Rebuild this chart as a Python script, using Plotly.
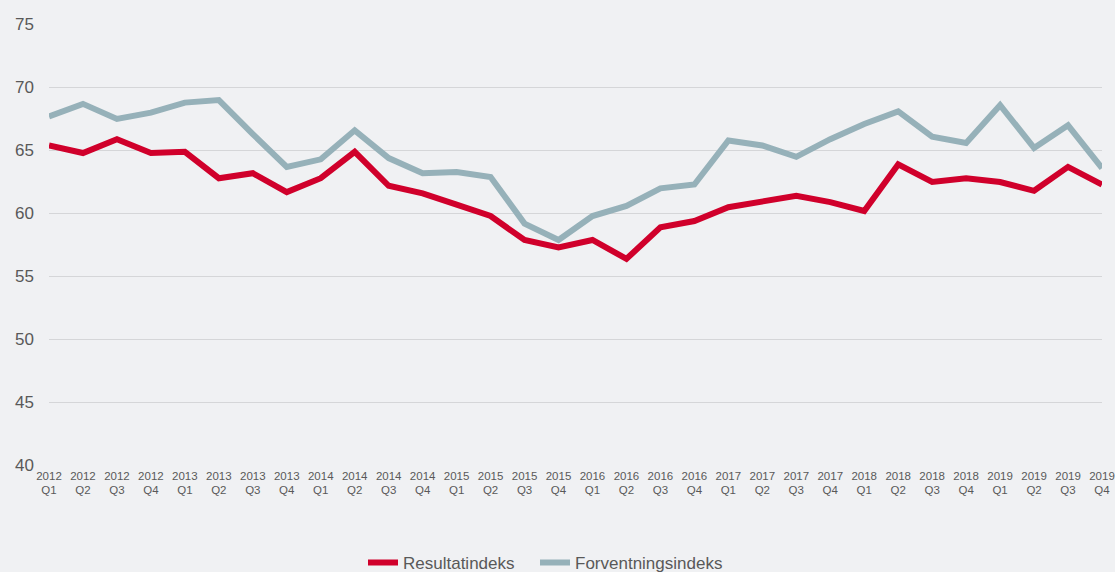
import plotly.graph_objects as go

quarters = [f"{y}<br>Q{q}" for y in range(2012, 2020) for q in range(1, 5)]

resultatindeks = [65.4, 64.8, 65.9, 64.8, 64.9, 62.8, 63.2, 61.7,
                  62.8, 64.9, 62.2, 61.6, 60.7, 59.8, 57.9, 57.3,
                  57.9, 56.4, 58.9, 59.4, 60.5, 60.9, 61.4, 60.9,
                  60.2, 63.9, 62.5, 62.8, 62.5, 61.8, 63.7, 62.3]

forventningsindeks = [67.7, 68.7, 67.5, 68.0, 68.8, 69.0, 66.3, 63.7,
                      64.3, 66.6, 64.4, 63.2, 63.3, 62.9, 59.2, 57.9,
                      59.8, 60.6, 62.0, 62.3, 65.8, 65.4, 64.5, 65.9,
                      67.1, 68.1, 66.1, 65.6, 68.6, 65.2, 67.0, 63.6]

yticks = [40, 45, 50, 55, 60, 65, 70, 75]

fig = go.Figure()

fig.add_trace(go.Scatter(x=quarters, y=resultatindeks,
                         mode='lines',
                         name='Resultatindeks',
                         line=dict(color='#d0002b', width=6)))

fig.add_trace(go.Scatter(x=quarters, y=forventningsindeks,
                         mode='lines',
                         name='Forventningsindeks',
                         legend='legend2',
                         line=dict(color='#96b1b9', width=6)))

# one legend per series so the gap between them can be set
leg = dict(
    orientation='h',
    xref='container',
    yref='container',
    yanchor='middle',
    y=0.016,
    xanchor='left',
    font=dict(size=17, color='#595959'),
    itemwidth=30,
    bgcolor='rgba(0,0,0,0)',
)

fig.update_layout(
    width=1115,
    height=572,
    margin=dict(l=49, r=0, t=24, b=106),
    paper_bgcolor='#f0f1f3',
    plot_bgcolor='#f0f1f3',
    font=dict(family='Liberation Sans, Arial', color='#595959'),
    xaxis=dict(
        type='category',
        showgrid=False,
        showline=False,
        zeroline=False,
        tickangle=0,
        tickfont=dict(size=11.5, color='#595959'),
        ticklabelstandoff=1,
    ),
    yaxis=dict(
        range=[39.96, 75.04],
        tickvals=yticks,
        showgrid=True,
        gridcolor='#d5d6d8',
        gridwidth=1,
        zeroline=False,
        showline=False,
        tickfont=dict(size=17, color='#595959'),
        ticklabelstandoff=14,
    ),
    legend=dict(leg, x=363 / 1115),
    legend2=dict(leg, x=535 / 1115),
    showlegend=True,
)

# drop the page margin so the figure fills the window
fig.write_html("out.html", config={'displayModeBar': False},
               post_script="document.body.style.margin='0';")
